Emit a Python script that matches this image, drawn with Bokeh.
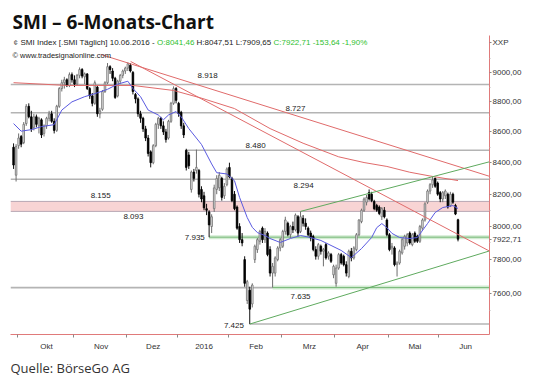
import pandas as pd
from bokeh.plotting import figure
from bokeh.models import (Range1d, FixedTicker, CustomJSTickFormatter, Label, Title,
                          ColumnDataSource, Span, BoxAnnotation, CDSView, BooleanFilter)
from bokeh.embed import file_html
from bokeh.resources import INLINE
from bokeh.core.properties import value

# ---------------- data ----------------
holidays = ["2015-12-24", "2015-12-25", "2015-12-31", "2016-01-01",
            "2016-03-25", "2016-03-28", "2016-05-05", "2016-05-16"]
month_names = ["Okt", "Nov", "Dez", "2016", "Feb", "Mrz", "Apr", "Mai", "Jun"]

open_ = [8500, 8320, 8510, 8570, 8530, 8655, 8770, 8700, 8630, 8700,
         8640, 8680, 8590, 8640, 8690, 8720, 8670, 8610, 8770, 8890,
         8930, 8950, 8910, 8985, 8950, 8920, 8980, 9020, 8970, 8990,
         8890, 8840, 8790, 8900, 8720, 8750, 8870, 8930, 9040, 9010,
         8960, 8840, 8940, 8980, 9010, 9030, 9050, 9000, 8850, 8820,
         8720, 8690, 8620, 8560, 8470, 8400, 8510, 8650, 8690, 8640,
         8600, 8560, 8670, 8790, 8890, 8790, 8730, 8640, 8480, 8450,
         8230, 8340, 8350, 8350, 8230, 8190, 8110, 8090, 8000, 8110,
         8230, 8240, 8300, 8190, 8260, 8370, 8300, 8200, 8120, 8000,
         7920, 7800, 7560, 7620, 7540, 7800, 7860, 7910, 7990, 7920,
         7960, 7860, 7720, 7720, 7800, 7870, 7880, 7970, 8020, 7950,
         8000, 7980, 8060, 7970, 8050, 8020, 7990, 7960, 7940, 7860,
         7820, 7880, 7850, 7890, 7820, 7830, 7710, 7660, 7750, 7830,
         7820, 7770, 7700, 7850, 7810, 7860, 7950, 8030, 8100, 8150,
         8210, 8200, 8155, 8130, 8120, 8060, 8100, 8040, 7950, 7870,
         7870, 7770, 7780, 7840, 7880, 7900, 7960, 7890, 7960, 7940,
         7910, 7990, 8040, 8150, 8220, 8260, 8300, 8270, 8210, 8170,
         8190, 8200, 8130, 8200, 8130, 8041.46]
high = [8525, 8520, 8590, 8580, 8665, 8785, 8790, 8740, 8720, 8715,
        8700, 8690, 8650, 8700, 8740, 8740, 8690, 8780, 8900, 8950,
        8970, 8960, 9000, 9000, 8980, 8990, 9035, 9030, 9000, 8995,
        8900, 8860, 8945, 8910, 8760, 8880, 8940, 9065, 9050, 9030,
        8970, 8950, 8990, 9020, 9040, 9070, 9065, 9010, 8860, 8830,
        8740, 8700, 8640, 8580, 8480, 8520, 8660, 8700, 8700, 8670,
        8620, 8680, 8800, 8905, 8900, 8800, 8740, 8660, 8490, 8470,
        8350, 8360, 8485, 8360, 8250, 8215, 8140, 8100, 8075, 8260,
        8320, 8340, 8310, 8270, 8370, 8400, 8310, 8220, 8130, 8020,
        7960, 7820, 7680, 7640, 7660, 7890, 7930, 7980, 8000, 7990,
        7970, 7880, 7780, 7820, 7880, 7930, 7980, 8060, 8030, 8010,
        8030, 8080, 8070, 8093, 8070, 8050, 8000, 7975, 7950, 7880,
        7900, 7890, 7870, 7900, 7850, 7840, 7770, 7770, 7840, 7840,
        7830, 7790, 7860, 7870, 7880, 7960, 8045, 8110, 8180, 8195,
        8230, 8215, 8165, 8140, 8130, 8120, 8120, 8050, 7960, 7900,
        7880, 7790, 7860, 7930, 7950, 7960, 7970, 7960, 7970, 7950,
        8010, 8050, 8150, 8230, 8270, 8310, 8305, 8280, 8220, 8220,
        8230, 8210, 8215, 8210, 8140, 8047.51]
low = [8360, 8280, 8490, 8500, 8520, 8640, 8690, 8600, 8610, 8630,
       8590, 8560, 8570, 8620, 8670, 8660, 8590, 8600, 8760, 8870,
       8890, 8900, 8900, 8930, 8900, 8910, 8960, 8960, 8920, 8880,
       8820, 8770, 8780, 8700, 8690, 8740, 8860, 8920, 8990, 8940,
       8820, 8830, 8920, 8960, 8990, 9010, 9000, 8850, 8790, 8700,
       8660, 8600, 8540, 8440, 8370, 8390, 8500, 8620, 8620, 8580,
       8530, 8550, 8660, 8780, 8790, 8700, 8620, 8560, 8350, 8360,
       8210, 8280, 8330, 8180, 8150, 8100, 8070, 7935, 7960, 8090,
       8200, 8220, 8160, 8170, 8250, 8300, 8150, 8100, 7980, 7900,
       7880, 7640, 7540, 7425, 7520, 7780, 7840, 7890, 7900, 7900,
       7820, 7700, 7635, 7700, 7790, 7850, 7870, 7950, 7940, 7930,
       7960, 7970, 7940, 7960, 8000, 7980, 7940, 7910, 7850, 7800,
       7800, 7830, 7760, 7800, 7800, 7780, 7690, 7640, 7740, 7770,
       7760, 7700, 7690, 7790, 7800, 7850, 7940, 8020, 8090, 8130,
       8160, 8150, 8100, 8090, 8070, 8040, 8050, 7940, 7850, 7830,
       7760, 7700, 7770, 7830, 7860, 7880, 7890, 7880, 7900, 7900,
       7900, 7980, 8030, 8140, 8200, 8240, 8240, 8190, 8150, 8150,
       8170, 8110, 8120, 8140, 8070, 7909.65]
close = [8385, 8505, 8560, 8520, 8650, 8770, 8700, 8620, 8700, 8650,
         8690, 8580, 8640, 8690, 8720, 8670, 8610, 8770, 8890, 8930,
         8950, 8910, 8985, 8950, 8920, 8980, 9020, 8975, 8990, 8890,
         8840, 8790, 8930, 8720, 8740, 8870, 8930, 9040, 9020, 8960,
         8830, 8940, 8980, 9010, 9030, 9060, 9010, 8870, 8820, 8720,
         8690, 8620, 8560, 8460, 8400, 8510, 8650, 8690, 8640, 8600,
         8550, 8670, 8790, 8890, 8810, 8720, 8640, 8580, 8370, 8380,
         8340, 8300, 8370, 8200, 8170, 8115, 8100, 8010, 8060, 8240,
         8300, 8320, 8180, 8250, 8360, 8310, 8160, 8110, 7990, 7920,
         7900, 7660, 7670, 7510, 7650, 7880, 7920, 7970, 7920, 7970,
         7830, 7720, 7760, 7810, 7870, 7920, 7970, 8040, 7950, 8000,
         7980, 8070, 7960, 8060, 8020, 8000, 7950, 7930, 7860, 7820,
         7890, 7850, 7860, 7810, 7840, 7790, 7760, 7750, 7830, 7780,
         7770, 7720, 7850, 7810, 7870, 7950, 8040, 8100, 8170, 8180,
         8170, 8160, 8110, 8100, 8080, 8110, 8060, 7950, 7860, 7880,
         7770, 7780, 7850, 7920, 7940, 7950, 7900, 7950, 7910, 7910,
         8000, 8040, 8140, 8220, 8260, 8290, 8250, 8200, 8170, 8210,
         8220, 8120, 8200, 8150, 8076.35, 7922.71]

# short moving average (blue), read at selected trading days
ma_fast_day = [0, 3, 7, 11, 16, 19, 23, 28, 32, 37, 41, 45, 47, 50, 53, 57, 59, 61, 64, 66,
               69, 74, 78, 80, 84, 87, 89, 92, 94, 96, 99, 101, 105, 109, 113, 117, 121, 125,
               129, 133, 137, 141, 143, 145, 147, 149, 152, 156, 159, 163, 166, 169, 173, 175]
ma_fast_val = [8655, 8605, 8615, 8635, 8648, 8745, 8800, 8835, 8855, 8885, 8920, 8940, 8890, 8835,
               8745, 8712, 8680, 8712, 8735, 8700, 8622, 8518, 8392, 8336, 8328, 8285, 8180, 8055,
               7995, 7963, 7945, 7927, 7903, 7927, 7945, 7933, 7915, 7885, 7855, 7812, 7866, 7933,
               7993, 8018, 7993, 7958, 7933, 7927, 7933, 8018, 8086, 8117, 8129, 8111]
# long moving average (red)
ma_slow_day = [0, 21, 47, 63, 74, 87, 101, 114, 128, 138, 147, 156, 164, 175]
ma_slow_val = [8930, 8911, 8911, 8877, 8825, 8755, 8622, 8526, 8438, 8401, 8376, 8339, 8315, 8286]

# trend lines: (day, value) pairs
trend_red = [((34.3, 9125), (187.4, 8313)), ((46.1, 9076), (187.4, 7851))]
trend_green = [((113, 8093), (187.4, 8406)), ((93, 7425), (187.4, 7852))]

# horizontal levels
gray_full_levels = [8918, 8727, 8294, 7635]
band_levels = (8093, 8155)
level_8480 = (68, 8480)
green_levels = [(77, 7935), (102, 7635)]
level_7425 = (93, 7425)

level_text = ["8.918", "8.727", "8.480", "8.294", "8.155", "8.093", "7.635"]
level_text_day = [76.4, 111, 95.3, 114.2, 34.3, 47.2, 113]
level_text_val = [8918, 8727, 8480, 8294, 8155, 8093, 7635]
level_text_dy = [-9, -4.5, -4.5, 6, -6, 5, 9]
left_text = ["7.935", "7.425"]
left_text_day = [75.3, 90.7]
left_text_val = [7935, 7425]

y_ticks = [7600, 7800, 8000, 8200, 8400, 8600, 8800, 9000]
y_minor = [7500, 7700, 7900, 8100, 8300, 8500, 8700, 8900, 9100]
currency_label = "XXP"

# ---------------- build ----------------
days = pd.bdate_range("2015-09-29", "2016-06-10")
days = days[~days.isin(pd.to_datetime(holidays))]
n = len(days)
xs = list(range(n))
month_start = [i for i in range(1, n) if days[i].month != days[i - 1].month]
bounds = month_start + [month_start[-1] + 20]
mids = [(bounds[i] + bounds[i + 1]) / 2 for i in range(len(month_names))]

FONT = "Liberation Sans"
X0, X1 = -1.2, 187.4
Y0, Y1 = 7366, 9258
p = figure(width=540, height=389, x_range=Range1d(X0, X1), y_range=Range1d(Y0, Y1),
           y_axis_type="log", y_axis_location="right", x_axis_location="below",
           output_backend="svg", toolbar_location=None,
           title="SMI \u2013 6-Monats-Chart",
           min_border_left=10, min_border_right=51, min_border_top=35, min_border_bottom=55)
p.outline_line_color = None
p.xgrid.visible = False
p.ygrid.visible = False
p.background_fill_color = "white"
p.border_fill_color = "white"

p.title.text_font = "Open Sans"
p.title.text_font_size = "19px"
p.title.text_font_style = "bold"
p.title.text_color = "#111111"
p.title.align = "left"
p.title.offset = 2
p.title.standoff = 2

# axes
xa = p.xaxis[0]
xa.ticker = FixedTicker(ticks=mids, minor_ticks=[b - 0.5 for b in month_start])
xa.formatter = CustomJSTickFormatter(args=dict(names=month_names), code="return names[index] || '';")
xa.major_tick_line_color = None
xa.major_tick_in = 0
xa.major_tick_out = 0
xa.minor_tick_line_color = "#888888"
xa.minor_tick_in = 0
xa.minor_tick_out = 3
xa.axis_line_color = "#e07a7a"
xa.major_label_text_font = FONT
xa.major_label_text_font_size = "8px"
xa.major_label_text_color = "#333333"
xa.major_label_standoff = 4

# right axis: price ticks, last close marker and the currency label near the top
currency_pos = Y1 * 0.9947   # just below the top of the axis
ya = p.yaxis[0]
ya.ticker = FixedTicker(ticks=y_ticks + [close[-1], currency_pos], minor_ticks=y_minor)
ya.formatter = CustomJSTickFormatter(
    args=dict(cur=currency_label, top=y_ticks[-1] + 150),
    code="if (tick > top) { return cur; } return tick.toFixed(2).replace('.', ',');")
ya.axis_line_color = "#e07a7a"
ya.major_tick_line_color = "#888888"
ya.major_tick_in = 0
ya.major_tick_out = 2
ya.minor_tick_line_color = "#bbbbbb"
ya.minor_tick_in = 0
ya.minor_tick_out = 1
ya.major_label_text_font = FONT
ya.major_label_text_font_size = "8px"
ya.major_label_text_color = "#333333"
ya.major_label_standoff = 1

p.add_layout(Title(text="Quelle: B\u00f6rseGo AG", align="left", offset=0,
                   text_font="Open Sans", text_font_size="13px", text_font_style="normal",
                   text_color="#333333", standoff=6), "below")

# levels (underlay)
p.add_layout(BoxAnnotation(bottom=band_levels[0], top=band_levels[1], fill_color="#f6c6c6",
                           fill_alpha=0.75, line_color=None, level="underlay"))
for lv in band_levels:
    p.add_layout(Span(location=lv, dimension="width", line_color="#b8a8b4", line_width=1, level="underlay"))
for lv in gray_full_levels:
    p.add_layout(Span(location=lv, dimension="width", line_color="#b4b4b4", line_width=1.6, level="underlay"))
p.segment(x0=[level_8480[0], level_7425[0]], y0=[level_8480[1], level_7425[1]],
          x1=[X1, X1], y1=[level_8480[1], level_7425[1]], line_color="#b4b4b4", line_width=1.6)
gx = [g[0] for g in green_levels]
gy = [g[1] for g in green_levels]
p.segment(x0=gx, y0=gy, x1=[X1] * len(gx), y1=gy, line_color="#d2ebd2", line_width=4)
p.segment(x0=gx, y0=gy, x1=[X1] * len(gx), y1=gy, line_color="#78b878", line_width=1)

# candles
up = [c >= o for o, c in zip(open_, close)]
src = ColumnDataSource(dict(x=xs, o=open_, h=high, l=low, c=close,
                            top=[max(o, c) for o, c in zip(open_, close)],
                            bot=[min(o, c) for o, c in zip(open_, close)]))
v_up = CDSView(filter=BooleanFilter(up))
v_dn = CDSView(filter=BooleanFilter([not u for u in up]))
p.segment(x0="x", y0="h", x1="x", y1="l", source=src, view=v_up, line_color="#6e6e6e", line_width=1)
p.segment(x0="x", y0="h", x1="x", y1="l", source=src, view=v_dn, line_color="#111111", line_width=1)
p.vbar(x="x", width=0.62, top="top", bottom="bot", source=src, view=v_up,
       fill_color="#ececec", line_color="#6e6e6e", line_width=0.8)
p.vbar(x="x", width=0.62, top="top", bottom="bot", source=src, view=v_dn,
       fill_color="#000000", line_color="#000000", line_width=0.8)

# moving averages
p.line(ma_slow_day, ma_slow_val, line_color="#e06b6b", line_width=1)
p.line(ma_fast_day, ma_fast_val, line_color="#5a5ae0", line_width=1)

# trend lines
for (a, b) in trend_red:
    p.line([a[0], b[0]], [a[1], b[1]], line_color="#e06b6b", line_width=1)
for (a, b) in trend_green:
    p.line([a[0], b[0]], [a[1], b[1]], line_color="#5faa5f", line_width=1)

# level texts
p.text(x=level_text_day, y=level_text_val, text=level_text, y_offset=level_text_dy,
       text_font=value(FONT), text_font_size="8px", text_color="#222222",
       text_align="center", text_baseline="middle")
p.text(x=left_text_day, y=left_text_val, text=left_text, y_offset=[0, 1.5],
       text_font=value(FONT), text_font_size="8px", text_color="#222222",
       text_align="right", text_baseline="middle")

# header texts (screen units relative to the plot frame: x from left, y up from bottom)
def lab(x, y, text, size="8px", color="#222222"):
    p.add_layout(Label(x=x, y=y, x_units="screen", y_units="screen", text=text,
                       text_font=FONT, text_font_size=size, text_color=color,
                       text_baseline="middle"))

lab(3, 292, "\u00a2", color="#555555")
lab(10, 292, "SMI Index [.SMI T\u00e4glich] 10.06.2016 -")
lab(146.5, 292, "O:8041,46", color="#2fbf2f")
lab(186, 292, "H:8047,51 L:7909,65")
lab(263, 292, "C:7922,71 -153,64 -1,90%", color="#2fbf2f")
lab(2, 279, "\u00a9 www.tradesignalonline.com", size="7.5px")

open("out.html", "w").write(file_html(p, INLINE))
